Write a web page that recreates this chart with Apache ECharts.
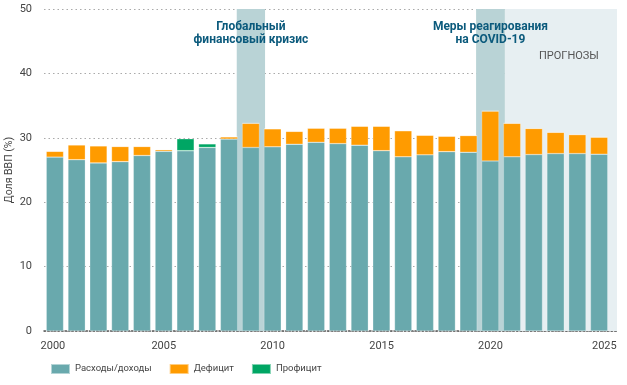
<!DOCTYPE html>
<html>
<head>
<meta charset="utf-8">
<script src="https://cdn.jsdelivr.net/npm/echarts@6/dist/echarts.min.js"></script>
<style>html,body{margin:0;padding:0;background:#fff}#c{width:627px;height:385px}</style>
</head>
<body>
<div id="c"></div>
<script>
const years = ['2000','2001','2002','2003','2004','2005','2006','2007','2008','2009','2010','2011','2012','2013','2014','2015','2016','2017','2018','2019','2020','2021','2022','2023','2024','2025'];
const base = [27.0,26.6,26.1,26.3,27.25,27.9,28.0,28.5,29.8,28.5,28.6,29.0,29.3,29.1,28.85,28.0,27.05,27.35,27.85,27.75,26.4,27.05,27.4,27.55,27.55,27.45];
const deficit = [0.9,2.3,2.65,2.35,1.4,0.25,0,0,0.35,3.75,2.8,2.0,2.2,2.4,2.95,3.8,4.05,3.05,2.4,2.6,7.75,5.2,4.05,3.3,2.95,2.65];
const surplus = [0,0,0,0,0,0,1.85,0.55,0,0,0,0,0,0,0,0,0,0,0,0,0,0,0,0,0,0];
const xTicks = [2000,2005,2010,2015,2020,2025];
const yTicks = [0,10,20,30,40,50];
const seriesNames = ['Расходы/доходы','Дефицит','Профицит'];
const gfcText = 'Глобальный\nфинансовый кризис';
const covidText = 'Меры реагирования\nна COVID-19';
const forecastText = 'ПРОГНОЗЫ';
const gfcRange = [2008.35, 2009.65];
const covidRange = [2019.34, 2020.66];
const forecastRange = [2020.66, 2025.81];

const FONT = 'Roboto, "Noto Sans", sans-serif';
const annLabel = {
  show: true, position: 'insideTop', distance: 11,
  color: '#0b5a7c', fontWeight: 'bold', fontSize: 12, lineHeight: 13.5, fontFamily: FONT
};
const barStyle = c => ({color: c, borderColor: 'rgba(255,255,255,0.5)', borderWidth: 0.5});

const chart = echarts.init(document.getElementById('c'), null, {renderer: 'canvas'});
chart.setOption({
  animation: false,
  textStyle: {fontFamily: FONT},
  grid: [
    {left: 44, right: 10, top: 9, bottom: 54, outerBoundsMode: 'none', containLabel: false},
    {left: 44, right: 17, top: 9, bottom: 54, outerBoundsMode: 'none', containLabel: false}
  ],
  xAxis: [
    {
      gridIndex: 0, type: 'value', min: 1999.5, max: 2025.81,
      splitLine: {show: false},
      axisTick: {show: false},
      axisLine: {show: true, lineStyle: {color: '#555', type: [1.5, 2], width: 1.5}},
      axisLabel: {
        customValues: xTicks, color: '#444', fontSize: 11, margin: 10,
        formatter: v => v === 2000 ? '{l|' + v + '}' : (v === 2025 ? '{r|' + v + '}' : String(v)),
        rich: {
          l: {padding: [0, 4, 0, 0], color: '#444', fontSize: 11},
          r: {padding: [0, 0, 0, 10], color: '#444', fontSize: 11}
        }
      }
    },
    {
      gridIndex: 1, type: 'category', data: years, boundaryGap: true,
      axisLine: {show: false}, axisTick: {show: false}, axisLabel: {show: false}, splitLine: {show: false}
    }
  ],
  yAxis: [
    {
      gridIndex: 0, type: 'value', min: 0, max: 50, interval: 10,
      name: 'Доля ВВП (%)', nameLocation: 'middle', nameGap: 29, nameMoveOverlap: false,
      nameTextStyle: {color: '#444', fontSize: 10.5},
      axisLine: {show: false}, axisTick: {show: false},
      axisLabel: {color: '#444', fontSize: 11, margin: 12},
      splitLine: {lineStyle: {color: '#aaa', type: [1.5, 3], width: 1.2}}
    },
    {
      gridIndex: 1, type: 'value', min: 0, max: 50, interval: 10,
      axisLine: {show: false}, axisTick: {show: false}, axisLabel: {show: false}, splitLine: {show: false}
    }
  ],
  legend: {
    left: 45, bottom: 5, itemWidth: 19, itemHeight: 10, itemGap: 17,
    icon: 'rect', data: seriesNames,
    textStyle: {color: '#444', fontSize: 9.5, fontFamily: FONT}
  },
  series: [
    {
      name: 'shading', type: 'line', xAxisIndex: 0, yAxisIndex: 0, data: [], silent: true,
      markArea: {
        silent: true,
        data: [
          [{xAxis: forecastRange[0], itemStyle: {color: '#e7eff2'}, label: {show: true, position: 'insideTop', distance: 42, offset: [8, 0], color: '#555', fontSize: 11, fontFamily: FONT, formatter: forecastText}}, {xAxis: forecastRange[1]}],
          [{xAxis: gfcRange[0], itemStyle: {color: '#b9d3d6'}, label: Object.assign({}, annLabel, {formatter: gfcText})}, {xAxis: gfcRange[1]}],
          [{xAxis: covidRange[0], itemStyle: {color: '#b9d3d6'}, label: Object.assign({}, annLabel, {formatter: covidText})}, {xAxis: covidRange[1]}]
        ]
      }
    },
    {
      name: seriesNames[0], type: 'bar', stack: 'a', barWidth: 17.3, xAxisIndex: 1, yAxisIndex: 1,
      data: base, itemStyle: barStyle('#69a9ad')
    },
    {
      name: seriesNames[1], type: 'bar', stack: 'a', barWidth: 17.3, xAxisIndex: 1, yAxisIndex: 1,
      data: deficit, itemStyle: barStyle('#ff9b00')
    },
    {
      name: seriesNames[2], type: 'bar', stack: 'a', barWidth: 17.3, xAxisIndex: 1, yAxisIndex: 1,
      data: surplus, itemStyle: barStyle('#00a664')
    }
  ]
});
</script>
</body>
</html>
